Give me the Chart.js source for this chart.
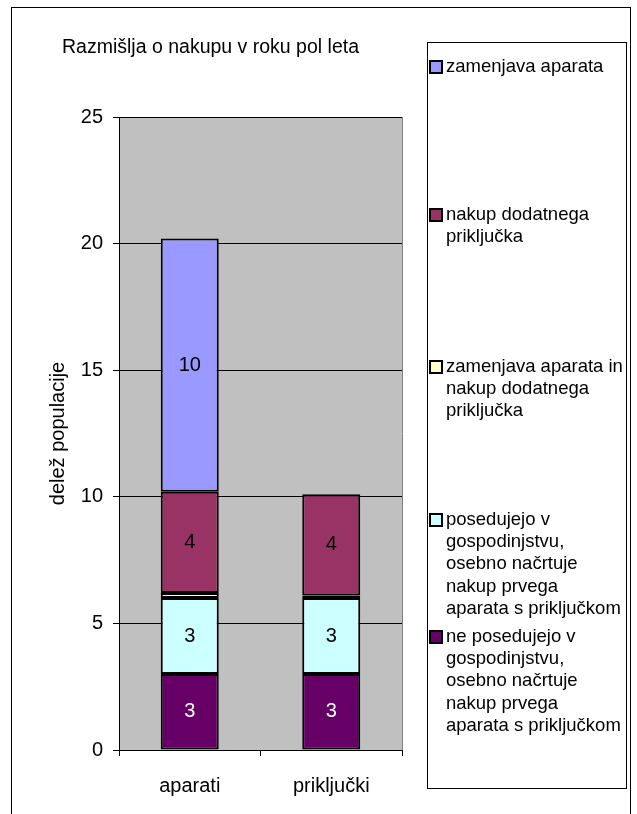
<!DOCTYPE html>
<html>
<head>
<meta charset="utf-8">
<script src="https://cdn.jsdelivr.net/npm/chart.js@4/dist/chart.umd.min.js"></script>
<style>
  html, body { margin: 0; padding: 0; background: #fff; }
  #wrap { width: 637px; height: 814px; position: relative; }
</style>
</head>
<body>
<div id="wrap"><canvas id="myChart" width="637" height="814"></canvas></div>
<script>
// chart data
var categories = ["aparati", "priključki"];
var neposedujejo = [3.0, 3.0];
var posedujejo = [3.0, 3.0];
var zamenjavaInNakup = [0.2, 0.1];
var nakupDodatnega = [4.0, 4.0];
var zamenjava = [10.0, 0];
var yTicks = [0, 5, 10, 15, 20, 25];

var chartTitle = "Razmišlja o nakupu v roku pol leta";
var axisTitle = "delež populacije";

// legend lines (top to bottom in legend, reverse of stack order)
var legendLines = [
  ["zamenjava aparata"],
  ["nakup dodatnega", "priključka"],
  ["zamenjava aparata in", "nakup dodatnega", "priključka"],
  ["posedujejo v", "gospodinjstvu,", "osebno načrtuje", "nakup prvega", "aparata s priključkom"],
  ["ne posedujejo v", "gospodinjstvu,", "osebno načrtuje", "nakup prvega", "aparata s priključkom"]
];
var legendTop = [67, 215, 367, 520, 637];

var FONT = "Arial, 'Liberation Sans', sans-serif";

// grey plot area + frames, title, legend
var excelLook = {
  id: "excelLook",
  beforeDraw: function (chart) {
    var ctx = chart.ctx, a = chart.chartArea;
    ctx.save();
    ctx.fillStyle = "#fff";
    ctx.fillRect(0, 0, chart.width, chart.height);
    ctx.fillStyle = "#c0c0c0";
    ctx.fillRect(a.left, a.top, a.right - a.left, a.bottom - a.top);
    ctx.restore();
  },
  afterDraw: function (chart) {
    var ctx = chart.ctx, a = chart.chartArea;
    ctx.save();
    // plot right border
    ctx.strokeStyle = "#808080";
    ctx.lineWidth = 1;
    ctx.beginPath();
    ctx.moveTo(a.right + 0.5, a.top);
    ctx.lineTo(a.right + 0.5, a.bottom);
    ctx.stroke();
    // outer frame
    ctx.strokeStyle = "#000";
    ctx.strokeRect(11.5, 7.5, 619, 820);
    // title
    ctx.fillStyle = "#000";
    ctx.font = "19.5px " + FONT;
    ctx.textBaseline = "middle";
    ctx.textAlign = "left";
    ctx.fillText(chartTitle, 62, 48);
    // legend box
    ctx.strokeRect(427.5, 42.5, 199, 746);
    ctx.font = "18.5px " + FONT;
    var n = chart.data.datasets.length;
    for (var i = 0; i < legendLines.length; i++) {
      var ds = chart.data.datasets[n - 1 - i];
      var y0 = legendTop[i];
      ctx.fillStyle = ds.backgroundColor;
      ctx.fillRect(430, y0 - 6, 12, 12);
      ctx.lineWidth = 2;
      ctx.strokeStyle = "#000";
      ctx.strokeRect(430, y0 - 6, 12, 12);
      ctx.fillStyle = "#000";
      for (var k = 0; k < legendLines[i].length; k++) {
        ctx.fillText(legendLines[i][k], 446, y0 + k * 22.2);
      }
    }
    ctx.restore();
  },
  afterDatasetsDraw: function (chart) {
    var ctx = chart.ctx;
    ctx.save();
    ctx.font = "20px " + FONT;
    ctx.textAlign = "center";
    ctx.textBaseline = "middle";
    chart.data.datasets.forEach(function (ds, di) {
      var meta = chart.getDatasetMeta(di);
      meta.data.forEach(function (bar, i) {
        var v = ds.data[i];
        if (v < 1) return;
        ctx.fillStyle = ds.labelColor;
        ctx.fillText(Math.round(v).toString(), bar.x, (bar.y + bar.base) / 2);
      });
    });
    ctx.restore();
  }
};

function series(label, data, color, labelColor) {
  return {
    label: label,
    data: data,
    backgroundColor: color,
    borderColor: "#000",
    borderWidth: 2,
    borderSkipped: false,
    barPercentage: 0.41,
    categoryPercentage: 1.0,
    labelColor: labelColor
  };
}

new Chart("myChart", {
  type: "bar",
  data: {
    labels: categories,
    datasets: [
      series("ne posedujejo v gospodinjstvu, osebno načrtuje nakup prvega aparata s priključkom", neposedujejo, "#660066", "#fff"),
      series("posedujejo v gospodinjstvu, osebno načrtuje nakup prvega aparata s priključkom", posedujejo, "#ccffff", "#000"),
      series("zamenjava aparata in nakup dodatnega priključka", zamenjavaInNakup, "#ffffcc", "#000"),
      series("nakup dodatnega priključka", nakupDodatnega, "#993366", "#000"),
      series("zamenjava aparata", zamenjava, "#9999ff", "#000")
    ]
  },
  options: {
    responsive: false,
    animation: false,
    devicePixelRatio: 1,
    layout: { padding: { left: 11, top: 117, right: 235, bottom: 0 } },
    plugins: {
      legend: { display: false },
      title: { display: false },
      tooltip: { enabled: false }
    },
    scales: {
      x: {
        stacked: true,
        afterFit: function (s) { s.height = 64; },
        grid: { offset: true, drawOnChartArea: false, drawTicks: true, tickLength: 6, color: "#000", lineWidth: 1 },
        border: { color: "#000", width: 1 },
        ticks: { color: "#000", font: { family: FONT, size: 20 }, padding: 18 }
      },
      y: {
        stacked: true,
        min: 0,
        max: 25,
        afterFit: function (s) { s.width = 108; },
        afterBuildTicks: function (s) { s.ticks = yTicks.map(function (v) { return { value: v }; }); },
        grid: { color: "#000", lineWidth: 1, drawTicks: true, tickLength: 6 },
        border: { color: "#000", width: 1 },
        ticks: { color: "#000", font: { family: FONT, size: 20 }, padding: 10 },
        title: { display: true, text: axisTitle, color: "#000", font: { family: FONT, size: 20 }, padding: { top: 35, bottom: 0 } }
      }
    }
  },
  plugins: [excelLook]
});
</script>
</body>
</html>
